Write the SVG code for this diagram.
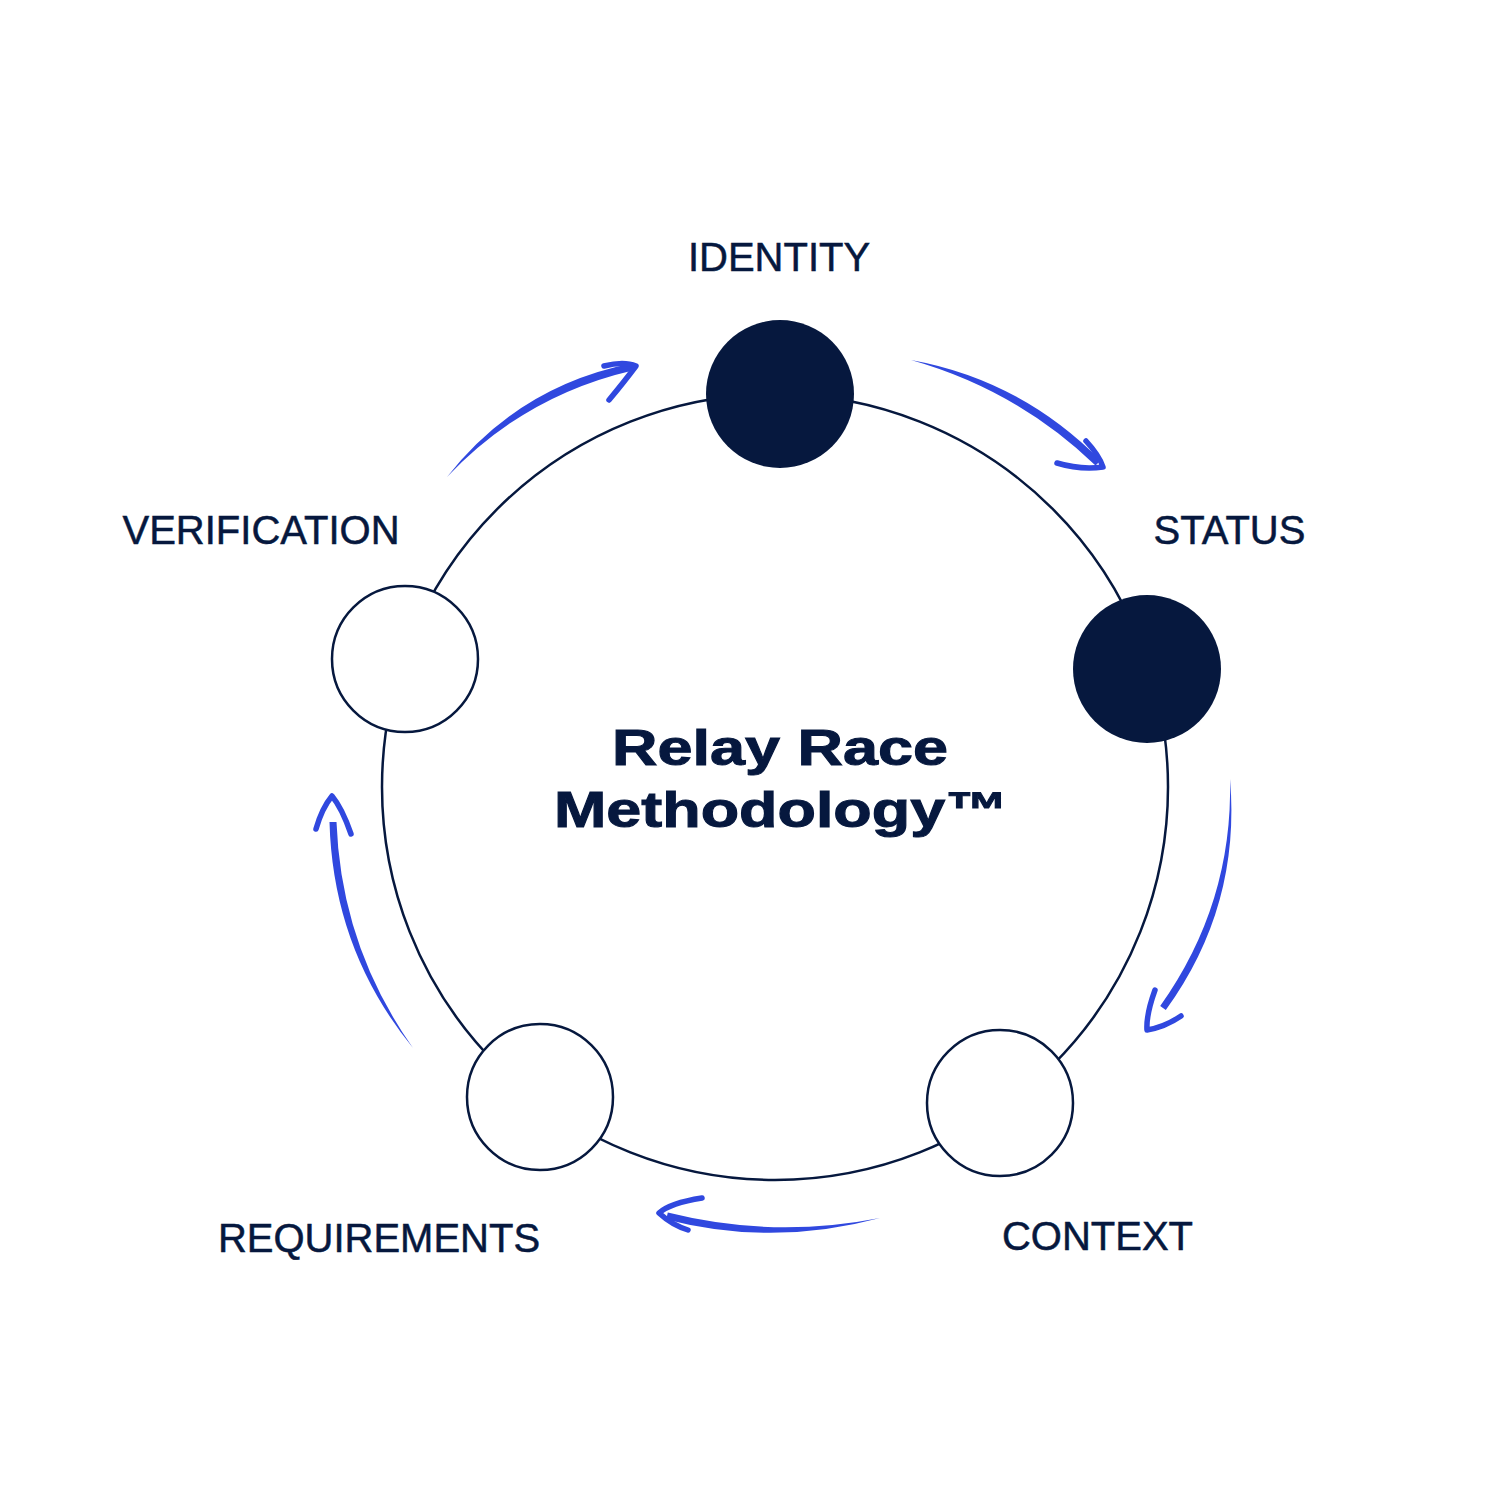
<svg xmlns="http://www.w3.org/2000/svg" width="1500" height="1499" viewBox="0 0 1500 1499">
<style>
.ring{fill:none;stroke:#06183E;stroke-width:2.5}
.dark{fill:#06183E}
.light{fill:#fff;stroke:#06183E;stroke-width:2.5}
.lbl{font-family:"Liberation Sans",Arial,sans-serif;font-size:40px;fill:#06183E;stroke:#06183E;stroke-width:0.5;text-anchor:middle}
.title{font-family:"Liberation Sans",Arial,sans-serif;font-weight:bold;font-size:50px;fill:#06183E;stroke:#06183E;stroke-width:1;text-anchor:middle}
.shaft{fill:#3048DF}
.head{fill:none;stroke:#3048DF;stroke-width:5.5;stroke-linecap:round;stroke-linejoin:round}
</style>
<rect width="1500" height="1499" fill="#fff"/>
<g id="connectors">
<circle class="ring" cx="775" cy="787" r="393"/>
<g id="arrow-verification-identity">
<path class="shaft" d="M447,477 Q518.2,386.4 631.2,363.6 L632.8,370.4 Q523.8,395.6 447,477Z"/>
<path class="head" d="M604,366 Q624,361 636,366 Q624,382 609,400"/>
</g>
<g id="arrow-identity-status">
<path class="shaft" d="M911,360 Q1021,380 1100.5,460.5 L1095.5,465.5 Q1017,390 911,360Z"/>
<path class="head" d="M1086,441 Q1099,455 1103,467 Q1080,470 1057,463"/>
</g>
<g id="arrow-status-context">
<path class="shaft" d="M1230,779 Q1241,906.3 1165.8,1010 L1160.2,1006 Q1233,903.7 1230,779Z"/>
<path class="head" d="M1155,990 Q1146,1015 1147,1030 Q1165,1027 1181,1016"/>
</g>
<g id="arrow-context-requirements">
<path class="shaft" d="M880,1218 Q773,1247 666.2,1219.4 L667.8,1212.6 Q773,1239 880,1218Z"/>
<path class="head" d="M702,1198 Q670,1203 659,1213 Q672,1225 688,1230"/>
</g>
<g id="arrow-requirements-verification">
<path class="shaft" d="M413,1048 Q333,950 329.5,822 L336.5,822 Q341,946 413,1048Z"/>
<path class="head" d="M316,829 Q322,808 332,796 Q342,808 351,834"/>
</g>
</g>
<g id="identity">
<circle class="dark" cx="780" cy="394" r="74"/>
<text class="lbl" x="779" y="271">IDENTITY</text>
</g>
<g id="status">
<circle class="dark" cx="1147" cy="669" r="74"/>
<text class="lbl" x="1229.5" y="544">STATUS</text>
</g>
<g id="context">
<circle class="light" cx="1000" cy="1103" r="73"/>
<text class="lbl" x="1097.5" y="1250">CONTEXT</text>
</g>
<g id="requirements">
<circle class="light" cx="540" cy="1097" r="73"/>
<text class="lbl" x="379" y="1252">REQUIREMENTS</text>
</g>
<g id="verification">
<circle class="light" cx="405" cy="659" r="73"/>
<text class="lbl" x="261" y="544">VERIFICATION</text>
</g>
<g id="title">
<text class="title" x="780" y="765" textLength="336" lengthAdjust="spacingAndGlyphs">Relay Race</text>
<text class="title" x="781" y="827" textLength="454" lengthAdjust="spacingAndGlyphs">Methodology™</text>
</g>
</svg>
